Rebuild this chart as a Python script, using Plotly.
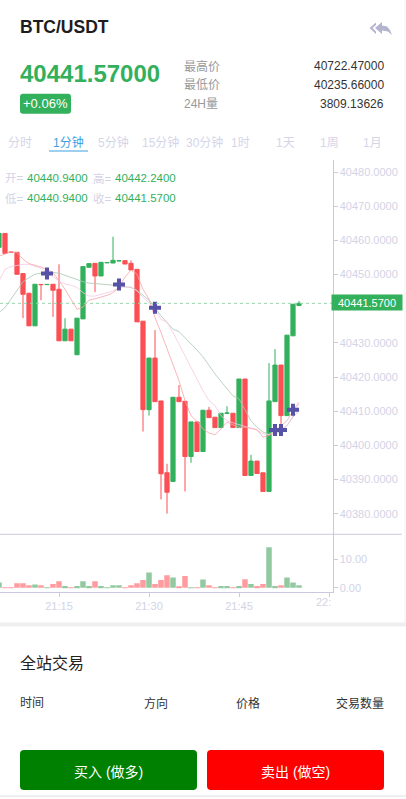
import pandas as pd
import plotly.graph_objects as go

W = 406
H = 799

GREEN = "#33b05c"
RED = "#fb4f55"
PALE = "#d3d3e6"
AXIS = "#c9c9df"
FONT = "Liberation Sans, Noto Sans CJK SC, sans-serif"

# candles, one per minute from 21:05
times = pd.date_range("2021-05-20 21:05", periods=51, freq="min")
opens = [40457.96, 40462.04, 40456.60, 40456.50, 40450.28, 40444.53, 40434.98, 40447.10, 40447.05, 40447.15,
         40445.69, 40430.60, 40434.02, 40426.51, 40437.02, 40452.12, 40453.28, 40449.58, 40453.45, 40453.37,
         40454.00, 40454.07, 40453.28, 40451.53, 40436.35, 40410.45, 40425.55, 40413.00, 40391.97, 40389.43,
         40414.07, 40412.91, 40396.73, 40406.86, 40398.19, 40410.28, 40408.24, 40405.20, 40409.40, 40409.40,
         40405.20, 40419.42, 40391.18, 40395.39, 40391.97, 40386.51, 40412.79, 40423.50, 40408.70, 40432.06,
         40440.94]
highs = [40462.04, 40462.04, 40456.60, 40456.50, 40450.28, 40444.53, 40447.15, 40447.10, 40447.10, 40447.15,
         40453.00, 40437.23, 40434.02, 40437.23, 40452.32, 40453.20, 40453.28, 40453.58, 40453.50, 40461.08,
         40454.05, 40454.07, 40454.16, 40451.53, 40436.35, 40425.55, 40433.72, 40413.00, 40394.60, 40414.07,
         40417.66, 40412.91, 40406.86, 40406.86, 40410.28, 40411.24, 40408.24, 40409.40, 40411.45, 40409.40,
         40419.42, 40419.42, 40397.23, 40395.39, 40391.97, 40424.09, 40428.18, 40423.50, 40432.26, 40441.31,
         40442.24]
lows = [40457.96, 40456.20, 40456.50, 40450.07, 40437.23, 40434.98, 40434.98, 40442.48, 40447.05, 40437.61,
        40430.60, 40430.60, 40430.60, 40426.51, 40437.02, 40452.12, 40444.82, 40449.58, 40453.45, 40453.37,
        40454.00, 40453.08, 40451.33, 40436.15, 40404.03, 40408.70, 40412.79, 40384.17, 40380.00, 40389.43,
        40412.79, 40386.51, 40394.89, 40398.19, 40398.19, 40408.12, 40405.20, 40405.20, 40409.40, 40405.20,
        40405.20, 40391.18, 40391.18, 40391.77, 40386.51, 40386.51, 40412.79, 40406.28, 40408.70, 40432.06,
        40440.94]
closes = [40462.04, 40456.20, 40456.50, 40450.07, 40444.23, 40434.98, 40447.15, 40447.05, 40447.10, 40445.40,
          40430.60, 40434.02, 40430.60, 40437.23, 40452.32, 40453.20, 40449.58, 40453.58, 40453.50, 40454.16,
          40454.05, 40453.08, 40451.33, 40436.15, 40410.45, 40425.55, 40412.79, 40391.68, 40386.28, 40414.07,
          40412.79, 40396.73, 40406.86, 40398.19, 40410.28, 40408.12, 40405.20, 40409.40, 40409.45, 40405.20,
          40419.42, 40391.18, 40395.39, 40391.77, 40386.51, 40413.00, 40423.50, 40408.70, 40432.26, 40441.31,
          40441.57]
volumes = [1.9, 0.2, 0.05, 1.6, 1.6, 0.9, 1.2, 0.9, 0.1, 1.3,
           2.3, 0.6, 0.2, 0.6, 2.3, 0.6, 2.3, 0.6, 0.2, 0.9,
           0.9, 0.2, 0.9, 1.6, 2.7, 5.4, 1.3, 2.7, 4.4, 3.6,
           0.5, 4.1, 0.2, 0.2, 2.9, 0.9, 0.2, 0.6, 0.6, 0.2,
           0.6, 3.0, 1.3, 0.6, 1.3, 14.2, 0.6, 0.9, 3.6, 1.9,
           0.9]

ma_fast = [40455.4, 40456.1, 40456.6, 40456.5, 40454.5, 40453.2, 40452.8, 40452.2, 40451.5, 40450.6,
           40448.1, 40445.7, 40442.8, 40439.8, 40440.5, 40442.5, 40442.9, 40443.3, 40443.9, 40444.7,
           40446.2, 40449.3, 40451.3, 40450.1, 40445.7, 40442.8, 40437.4, 40433.0, 40428.2, 40423.8,
           40418.9, 40413.1, 40408.7, 40407.0, 40404.8, 40403.6, 40403.1, 40404.8, 40406.8, 40406.0,
           40405.3, 40405.3, 40405.0, 40404.6, 40402.4, 40402.9, 40404.3, 40405.8, 40407.2, 40410.2,
           40412.6]
ma_mid = [40448.1, 40451.5, 40452.3, 40452.7, 40453.0, 40453.0, 40452.5, 40451.8, 40450.6, 40449.3,
          40448.1, 40447.2, 40446.9, 40446.2, 40444.7, 40443.7, 40443.7, 40444.2, 40444.7, 40445.2,
          40446.2, 40446.4, 40446.4, 40445.2, 40443.5, 40441.8, 40439.8, 40436.9, 40436.0, 40433.0,
          40429.6, 40426.2, 40422.8, 40419.4, 40416.0, 40413.1, 40411.6, 40408.7, 40407.2, 40406.6,
          40406.0, 40405.6, 40405.0, 40404.5, 40403.4, 40403.1, 40403.9, 40404.8, 40405.8, 40408.7,
          40412.1]
ma_slow = [40438.9, 40440.3, 40442.8, 40445.4, 40447.9, 40449.1, 40450.1, 40450.4, 40450.6, 40450.6,
           40450.4, 40449.8, 40449.1, 40448.4, 40447.9, 40447.5, 40447.4, 40447.2, 40447.1, 40446.9,
           40446.7, 40446.5, 40446.2, 40445.4, 40443.9, 40442.5, 40440.3, 40437.9, 40436.0, 40434.0,
           40433.3, 40431.6, 40429.8, 40427.9, 40425.9, 40423.3, 40420.9, 40418.7, 40416.5, 40414.5,
           40413.6, 40410.2, 40407.2, 40405.3, 40403.9, 40403.2, 40403.4, 40404.0, 40405.8, 40408.3,
           40410.2]

trade_times = ["2021-05-20 21:13", "2021-05-20 21:25", "2021-05-20 21:31",
               "2021-05-20 21:51", "2021-05-20 21:52", "2021-05-20 21:54"]
trade_prices = [40450.3, 40447.1, 40440.3, 40404.5, 40404.5, 40410.4]

last_price = 40441.57
price_ticks = [40380, 40390, 40400, 40410, 40420, 40430, 40440, 40450, 40460, 40470, 40480]
# the 40440 label sits under the last price tag
price_labels = ["40380.0000", "40390.0000", "40400.0000", "40410.0000", "40420.0000", "40430.0000", "",
                "40450.0000", "40460.0000", "40470.0000", "40480.0000"]
volume_ticks = [0, 10]
time_ticks = ["2021-05-20 21:15", "2021-05-20 21:30", "2021-05-20 21:45", "2021-05-20 22:00"]
time_labels = ["21:15", "21:30", "21:45", ""]

tabs = ["分时", "1分钟", "5分钟", "15分钟", "30分钟", "1时", "1天", "1周", "1月"]
tab_centers = [20, 68, 113, 160, 204.5, 240, 285, 329, 372.5]
stat_names = ["最高价", "最低价", "24H量"]
stat_values = ["40722.47000", "40235.66000", "3809.13626"]


def px(x):
    return x / W


def py(y):
    return 1 - y / H


def label(x, y, text, size=12, color="#333333", anchor="left", bold=False):
    if bold:
        text = f"<b>{text}</b>"
    fig.add_annotation(xref="paper", yref="paper", x=px(x), y=py(y), text=text, showarrow=False,
                       xanchor=anchor, yanchor="middle", font=dict(size=size, color=color, family=FONT),
                       borderpad=0, borderwidth=0)


def rect(x0, y0, x1, y1, color):
    fig.add_shape(type="rect", xref="paper", yref="paper", x0=px(x0), x1=px(x1), y0=py(y0), y1=py(y1),
                  fillcolor=color, line_width=0)


def round_rect(x0, y0, x1, y1, r, color):
    a, b, c, d = px(x0), px(x1), py(y0), py(y1)
    rx, ry = r / W, r / H
    path = (f"M{a + rx},{c} L{b - rx},{c} Q{b},{c} {b},{c - ry} L{b},{d + ry} Q{b},{d} {b - rx},{d} "
            f"L{a + rx},{d} Q{a},{d} {a},{d + ry} L{a},{c - ry} Q{a},{c} {a + rx},{c} Z")
    fig.add_shape(type="path", xref="paper", yref="paper", path=path, fillcolor=color, line_width=0)


def polygon(points, color):
    path = "M" + " L".join(f"{px(x)},{py(y)}" for x, y in points) + " Z"
    fig.add_shape(type="path", xref="paper", yref="paper", path=path, fillcolor=color, line_width=0)


fig = go.Figure()

fig.add_trace(go.Candlestick(x=times, open=opens, high=highs, low=lows, close=closes,
                             increasing=dict(line=dict(color=GREEN, width=1), fillcolor=GREEN),
                             decreasing=dict(line=dict(color=RED, width=1), fillcolor=RED),
                             xaxis="x", yaxis="y"))
for values, color in [(ma_slow, "#a9c6b2"), (ma_mid, "#f6c8e2"), (ma_fast, "#f8a3aa")]:
    fig.add_trace(go.Scatter(x=times, y=values, mode="lines", line=dict(color=color, width=0.8),
                             xaxis="x", yaxis="y"))
fig.add_trace(go.Scatter(x=trade_times, y=trade_prices, mode="markers",
                         marker=dict(symbol="cross", size=10, color="#5552a8"),
                         xaxis="x", yaxis="y"))

bar_colors = ["#93c9a0" if c >= o else "#ff9ca0" for o, c in zip(opens, closes)]
fig.add_trace(go.Bar(x=times, y=volumes, marker=dict(color=bar_colors, line_width=0), xaxis="x2", yaxis="y2"))

x_range = ["2021-05-20 21:05:10", "2021-05-20 22:00:35"]
fig.update_layout(
    width=W, height=H, margin=dict(l=0, r=0, t=0, b=0),
    paper_bgcolor="white", plot_bgcolor="white", showlegend=False, bargap=0.08, boxgap=0.3, boxgroupgap=0,
    font=dict(family=FONT, size=11, color=PALE),
    xaxis=dict(domain=[0, px(332.5)], range=x_range, anchor="y", showticklabels=False, ticks="",
               showgrid=False, zeroline=False, rangeslider_visible=False, showline=False),
    yaxis=dict(domain=[py(535.5), py(160)], range=[40374.0, 40483.65], side="right", anchor="x",
               tickvals=price_ticks, ticktext=price_labels, ticks="outside", ticklen=4, tickcolor=AXIS,
               showgrid=False, zeroline=False, showline=True, linecolor=AXIS, linewidth=1,
               tickfont=dict(size=11, color=PALE)),
    xaxis2=dict(domain=[0, px(332.5)], range=x_range, anchor="y2", tickvals=time_ticks, ticktext=time_labels,
                ticks="outside", ticklen=4, tickcolor=AXIS, showgrid=False, zeroline=False,
                showline=True, linecolor=AXIS, linewidth=1, tickfont=dict(size=11, color=PALE)),
    yaxis2=dict(domain=[py(593.3), py(535.5)], range=[-1.4, 18.8], side="right", anchor="x2",
                tickvals=volume_ticks, tickformat=".2f", ticks="outside", ticklen=4, tickcolor=AXIS,
                showgrid=False, zeroline=False, showline=True, linecolor=AXIS, linewidth=1,
                tickfont=dict(size=11, color=PALE)),
)

# last price line and the pane divider
fig.add_shape(type="line", xref="x", yref="y", x0=x_range[0], x1=x_range[1], y0=last_price, y1=last_price,
              line=dict(color="#94d8aa", width=1, dash="dot"))
rect(0, 535, 402, 536, AXIS)

# page bands
rect(0, 624, W, 628, "#efefef")
rect(0, 797, W, H, "#efefef")
rect(404, 0, W, 624, "#f8f8f8")

# header
label(20, 27, "BTC/USDT", size=17.5, color="#1d1d1d", bold=True)
polygon([(369.5, 28), (376, 22.5), (376, 25), (372.5, 28), (376, 31.5), (376, 34)], "#b4b4cf")
polygon([(375, 28), (382, 22), (382, 25.5), (387, 26.5), (390, 30), (392, 35), (388, 31.5), (382, 30.5), (382, 34)], "#b4b4cf")
label(20, 74, "40441.57000", size=24, color=GREEN, bold=True)
round_rect(20, 94, 71, 114, 3, GREEN)
label(45.5, 104, "+0.06%", size=13, color="white", anchor="center")
for i, (name, value) in enumerate(zip(stat_names, stat_values)):
    label(184, 66.5 + 19 * i, name, color="#999999")
    label(384, 66 + 19 * i, value, color="#333333", anchor="right")

# interval tabs
for tab, center in zip(tabs, tab_centers):
    label(center, 143, tab, color="#3f9fe0" if tab == "1分钟" else "#d5d5e8", anchor="center")
rect(49, 151, 88, 152, "#3f9fe0")

# ohlc legend
label(5, 178.5, "开=", size=11.5, color=PALE)
label(26.5, 178, f"{opens[-1]:.4f}", size=11.5, color=GREEN)
label(93, 178.5, "高=", size=11.5, color=PALE)
label(115, 178, f"{highs[-1]:.4f}", size=11.5, color=GREEN)
label(5, 199, "低=", size=11.5, color=PALE)
label(26.5, 198.5, f"{lows[-1]:.4f}", size=11.5, color=GREEN)
label(93, 199, "收=", size=11.5, color=PALE)
label(115, 198.5, f"{closes[-1]:.4f}", size=11.5, color=GREEN)

# last price tag
fig.add_annotation(xref="paper", yref="paper", x=px(367), y=py(303.5), text=f"{last_price:.4f}", showarrow=False,
                   width=70, height=15, bgcolor=GREEN, font=dict(size=11, color="white", family=FONT),
                   xanchor="center", yanchor="middle", borderpad=0)
label(331, 604, "22:", size=11, color=PALE, anchor="right")

# trades block
label(20, 665.5, "全站交易", size=16, color="#222222")
label(20, 705, "时间")
label(144, 705, "方向")
label(236, 705, "价格")
label(384, 705, "交易数量", anchor="right")
round_rect(20, 752, 197, 792, 4, "#008000")
round_rect(207, 752, 384, 792, 4, "#ff0000")
label(108.5, 773.5, "买入 (做多)", size=14, color="white", anchor="center")
label(295.5, 773.5, "卖出 (做空)", size=14, color="white", anchor="center")

fig.write_html("out.html", config={"displayModeBar": False},
               post_script="document.body.style.margin='0';document.body.style.overflow='hidden';")
